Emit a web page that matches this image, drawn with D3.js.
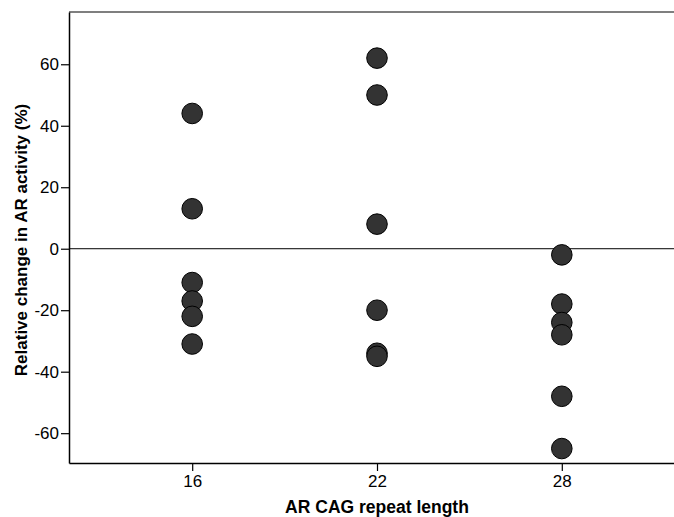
<!DOCTYPE html>
<html>
<head>
<meta charset="utf-8">
<script src="https://cdn.jsdelivr.net/npm/d3@7"></script>
<style>
  body { margin: 0; background: white; }
  svg { display: block; font-family: Arial, "Liberation Sans", sans-serif; }
</style>
</head>
<body>
<div id="graph"></div>
<script>
// data
const repeatLengths = [16, 22, 28];
const changes16 = [44, 13, -11, -17, -22, -31];
const changes22 = [62, 50, 8, -20, -34, -35];
const changes28 = [-2, -18, -24, -28, -48, -65];
const yTicks = [-60, -40, -20, 0, 20, 40, 60];

const groups = [changes16, changes22, changes28];
let points = [];
groups.forEach((vals, i) => {
    vals.forEach(v => points.push({x: repeatLengths[i], y: v}));
});

let width = 674, height = 517;
let marginLeft = 69, marginTop = 12, plotW = 616, plotH = 451;

var svg = d3.select('#graph')
    .append("svg")
    .attr("width", width).attr("height", height)
    .append("g")
    .attr("transform", `translate(${marginLeft}, ${marginTop})`);

var xScale = d3.scaleLinear()
    .domain([12, 32])
    .range([0, plotW]);

var yScale = d3.scaleLinear()
    .domain([-69.7, 77])
    .range([plotH, 0]);

// top frame line
svg.append("line")
    .attr("x1", 0).attr("x2", plotW)
    .attr("y1", 0).attr("y2", 0)
    .attr("stroke", "#555").attr("stroke-width", 1.3);

// zero reference line
svg.append("line")
    .attr("x1", 0).attr("x2", plotW)
    .attr("y1", yScale(0)).attr("y2", yScale(0))
    .attr("stroke", "#000").attr("stroke-width", 1);

var xAxis = d3.axisBottom(xScale)
    .tickValues(repeatLengths)
    .tickFormat(d => String(d))
    .tickSizeInner(8).tickSizeOuter(0).tickPadding(4);
var yAxis = d3.axisLeft(yScale)
    .tickValues(yTicks)
    .tickFormat(d => String(d))
    .tickSizeInner(8).tickSizeOuter(0).tickPadding(2);

var gx = svg.append("g").attr("transform", `translate(0,${plotH})`).call(xAxis);
var gy = svg.append("g").call(yAxis);

[gx, gy].forEach(g => {
    g.select(".domain").attr("stroke", "#000").attr("stroke-width", 1.5);
    g.selectAll(".tick line").attr("stroke", "#000").attr("stroke-width", 1.2);
    g.selectAll(".tick text")
        .attr("fill", "#000")
        .style("font-size", "17px")
        .style("font-family", "Arial, 'Liberation Sans', sans-serif");
});

// points
svg.append("g")
    .selectAll("circle").data(points)
    .enter().append("circle")
    .attr("cx", d => xScale(d.x))
    .attr("cy", d => yScale(d.y))
    .attr("r", 10.3)
    .style("fill", "#333333")
    .style("stroke", "#000")
    .style("stroke-width", 1);

// axis titles
svg.append("text")
    .attr("x", xScale(22))
    .attr("y", 513 - marginTop)
    .style("text-anchor", "middle")
    .style("font-weight", "bold")
    .style("font-size", "17.5px")
    .text("AR CAG repeat length");

svg.append("text")
    .attr("transform", `translate(${27 - marginLeft}, ${240 - marginTop}) rotate(-90)`)
    .style("text-anchor", "middle")
    .style("font-weight", "bold")
    .style("font-size", "17px")
    .text("Relative change in AR activity (%)");
</script>
</body>
</html>
